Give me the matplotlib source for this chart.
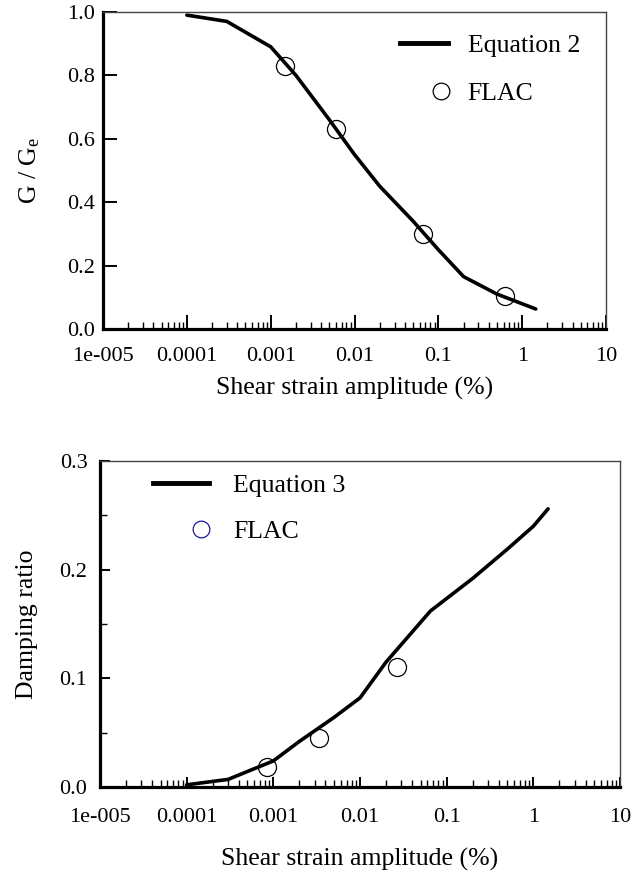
import matplotlib

matplotlib.use("Agg")
import matplotlib.pyplot as plt  # noqa: E402
from matplotlib.legend_handler import HandlerLine2D  # noqa: E402
from matplotlib.lines import Line2D  # noqa: E402
from matplotlib.ticker import LogLocator, NullFormatter  # noqa: E402

plt.rcParams["font.family"] = ["Liberation Serif", "DejaVu Serif"]
plt.rcParams["mathtext.fontset"] = "stix"

# modulus reduction (top panel)
eq2_strain = [1e-4, 3e-4, 1e-3, 2e-3, 5e-3, 1e-2, 2e-2, 5e-2, 0.1, 0.2, 0.5, 1.45]
eq2_g = [0.99, 0.97, 0.89, 0.80, 0.66, 0.55, 0.45, 0.34, 0.25, 0.165, 0.11, 0.063]
flac_g_strain = [0.0015, 0.006, 0.065, 0.62]
flac_g = [0.83, 0.63, 0.30, 0.105]

# damping (bottom panel)
eq3_strain = [1e-4, 3e-4, 1e-3, 2e-3, 5e-3, 1e-2, 2e-2, 6.5e-2, 0.2, 0.52, 1.0, 1.48]
eq3_d = [0.002, 0.007, 0.024, 0.042, 0.064, 0.082, 0.115, 0.162, 0.192, 0.22, 0.24, 0.256]
flac_d_strain = [0.00085, 0.0034, 0.027]
flac_d = [0.018, 0.045, 0.11]

xticks = [1e-5, 1e-4, 1e-3, 1e-2, 1e-1, 1, 10]
xticklabels = ["1e-005", "0.0001", "0.001", "0.01", "0.1", "1", "10"]


class MarkerRight(HandlerLine2D):
    """legend circle sits near the right end of the handle, like the original"""

    def get_xdata(self, legend, xdescent, ydescent, width, height, fontsize):
        x0 = -xdescent + 0.7 * width
        x1 = -xdescent + 1.0 * width
        return [x0, x1], [0.5 * (x0 + x1)]


def style(ax, major_len, xpad, ypad, xlabelpad):
    ax.set_xscale("log")
    ax.set_xlim(1e-5, 10)
    ax.set_xticks(xticks)
    ax.set_xticklabels(xticklabels)
    ax.xaxis.set_minor_locator(LogLocator(base=10, subs=range(2, 10), numticks=20))
    ax.xaxis.set_minor_formatter(NullFormatter())
    for s in ("left", "bottom"):
        ax.spines[s].set_linewidth(2.3)
    for s in ("top", "right"):
        ax.spines[s].set_linewidth(1.0)
        ax.spines[s].set_color("#444444")
    ax.tick_params(axis="both", which="major", direction="in", length=major_len, width=1.4,
                   labelsize=16)
    ax.tick_params(axis="x", which="major", pad=xpad)
    ax.tick_params(axis="y", which="major", pad=ypad)
    ax.tick_params(axis="both", which="minor", direction="in", length=5, width=1.0)
    ax.set_xlabel("Shear strain amplitude (%)", fontsize=18.5, labelpad=xlabelpad)


fig = plt.figure(figsize=(6.34, 8.77), dpi=100)

ax1 = fig.add_axes([0.1625, 0.6249, 0.7934, 0.3615])
ax1.plot(eq2_strain, eq2_g, color="black", lw=2.6, solid_capstyle="round")
ax1.plot(flac_g_strain, flac_g, ls="none", marker="o", ms=13, mfc="none",
         mec="black", mew=0.9)
style(ax1, 10, 13, 6, 8)
ax1.set_ylim(0, 1.0)
ax1.set_yticks([0.0, 0.2, 0.4, 0.6, 0.8, 1.0])
ax1.set_yticklabels([f"{v:.1f}" for v in [0.0, 0.2, 0.4, 0.6, 0.8, 1.0]])
ax1.set_ylabel("G / G$_\\mathregular{e}$", fontsize=18.5)
ax1.yaxis.set_label_coords(-0.122, 0.5)
h1 = [Line2D([], [], color="black", lw=3.5),
      Line2D([], [], ls="none", marker="o", ms=12, mfc="none", mec="black", mew=0.9)]
ax1.legend(h1, ["Equation 2", "FLAC"], loc="upper right", bbox_to_anchor=(0.948, 0.93),
           frameon=False, fontsize=18.5, handlelength=1.87, handletextpad=0.74,
           labelspacing=0.98, borderpad=0, borderaxespad=0,
           handler_map={h1[1]: MarkerRight()})

ax2 = fig.add_axes([0.1577, 0.1026, 0.8202, 0.3717])
ax2.plot(eq3_strain, eq3_d, color="black", lw=2.6, solid_capstyle="round")
ax2.plot(flac_d_strain, flac_d, ls="none", marker="o", ms=13, mfc="none",
         mec="black", mew=0.9)
style(ax2, 7, 15, 9, 15)
ax2.set_ylim(0, 0.3)
ax2.set_yticks([0.0, 0.1, 0.2, 0.3])
ax2.set_yticklabels([f"{v:.1f}" for v in [0.0, 0.1, 0.2, 0.3]])
ax2.set_yticks([0.05, 0.15, 0.25], minor=True)
ax2.set_ylabel("Damping ratio", fontsize=18.5)
ax2.yaxis.set_label_coords(-0.12, 0.5)
h2 = [Line2D([], [], color="black", lw=3.5),
      Line2D([], [], ls="none", marker="o", ms=12, mfc="none", mec="#1a1a9a", mew=0.9)]
ax2.legend(h2, ["Equation 3", "FLAC"], loc="upper left", bbox_to_anchor=(0.102, 0.96),
           frameon=False, fontsize=18.5, handlelength=2.18, handletextpad=0.93,
           labelspacing=0.91, borderpad=0, borderaxespad=0,
           handler_map={h2[1]: MarkerRight()})

fig.savefig("out.png", dpi=100)
